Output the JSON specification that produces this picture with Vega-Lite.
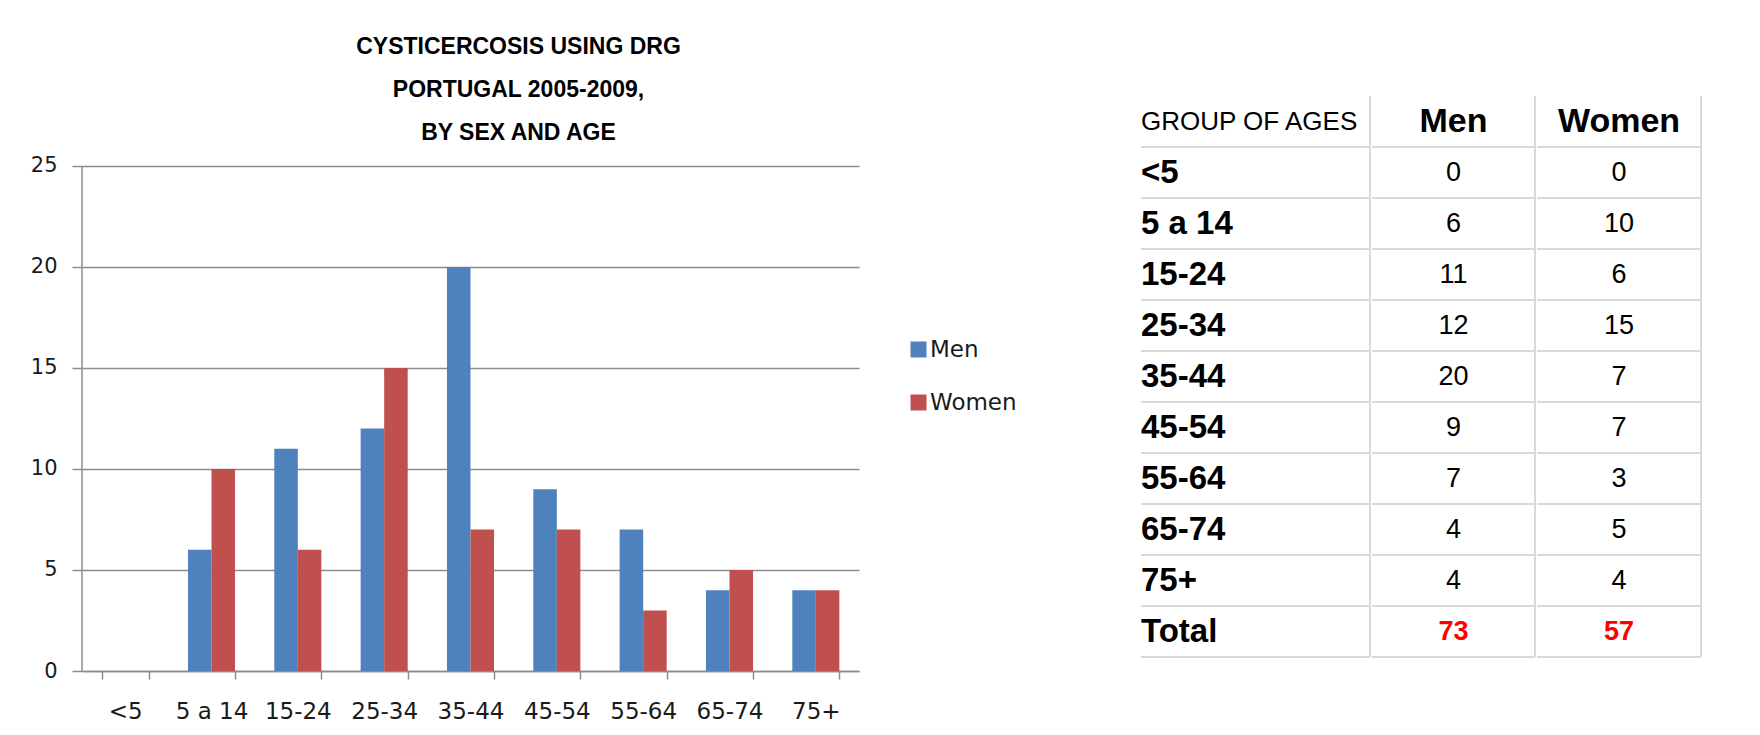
{
  "$schema": "https://vega.github.io/schema/vega-lite/v6.json",
  "background": "white",
  "padding": {"left": 30, "top": 36, "right": 0, "bottom": 0},
  "datasets": {
    "rows": [
      {"group": "<5", "Men": 0, "Women": 0},
      {"group": "5 a 14", "Men": 6, "Women": 10},
      {"group": "15-24", "Men": 11, "Women": 6},
      {"group": "25-34", "Men": 12, "Women": 15},
      {"group": "35-44", "Men": 20, "Women": 7},
      {"group": "45-54", "Men": 9, "Women": 7},
      {"group": "55-64", "Men": 7, "Women": 3},
      {"group": "65-74", "Men": 4, "Women": 5},
      {"group": "75+", "Men": 4, "Women": 4},
      {"group": "Total", "Men": 73, "Women": 57}
    ]
  },
  "columns": 2,
  "align": "none",
  "spacing": 281,
  "concat": [
    {
      "width": 777,
      "height": 575,
      "title": {
        "text": ["CYSTICERCOSIS  USING DRG", "PORTUGAL 2005-2009,", "BY SEX AND AGE"],
        "font": "Liberation Sans",
        "fontSize": 23,
        "fontWeight": "bold",
        "lineHeight": 43,
        "color": "#000000",
        "offset": -49,
        "anchor": "middle",
        "frame": "group",
        "dx": 48
      },
      "layer": [
        {
          "data": {"name": "rows"},
          "transform": [
            {"filter": "datum.group !== 'Total'"},
            {"fold": ["Men", "Women"], "as": ["sex", "count"]}
          ],
          "mark": {"type": "bar"},
          "encoding": {
            "x": {
              "field": "group",
              "type": "nominal",
              "sort": null,
              "scale": {"paddingInner": 0.455, "paddingOuter": 0.2275},
              "axis": {
                "title": null,
                "labelAngle": 0,
                "labelFont": "DejaVu Sans",
                "labelFontSize": 23,
                "labelColor": "#1a1a1a",
                "labelPadding": 21,
                "tickBand": "extent",
                "tickSize": 8,
                "tickColor": "#8c8c8c",
                "tickWidth": 1.5,
                "domainColor": "#8c8c8c",
                "domainWidth": 1.5,
                "grid": false
              }
            },
            "xOffset": {"field": "sex", "type": "nominal", "scale": {"paddingInner": 0, "paddingOuter": 0}},
            "y": {
              "field": "count",
              "type": "quantitative",
              "scale": {"domain": [0, 28.465], "nice": false},
              "axis": {
                "title": null,
                "values": [0, 5, 10, 15, 20, 25],
                "labelFont": "DejaVu Sans",
                "labelFontSize": 21,
                "labelColor": "#1a1a1a",
                "labelPadding": 15,
                "tickSize": 10,
                "tickColor": "#8c8c8c",
                "tickWidth": 1.5,
                "domain": false,
                "grid": true,
                "gridColor": "#8c8c8c",
                "gridWidth": 1.5
              }
            },
            "color": {
              "field": "sex",
              "type": "nominal",
              "scale": {"domain": ["Men", "Women"], "range": ["#4F81BD", "#C0504D"]},
              "legend": {
                "title": null,
                "orient": "none",
                "legendX": 825,
                "legendY": 242,
                "symbolType": "square",
                "symbolSize": 256,
                "symbolStrokeWidth": 0,
                "labelFont": "DejaVu Sans",
                "labelFontSize": 23,
                "labelColor": "#1a1a1a",
                "labelOffset": 0,
                "rowPadding": 29,
                "padding": 0
              }
            }
          }
        },
        {
          "data": {"values": [{}]},
          "mark": {"type": "rule", "color": "#8c8c8c", "strokeWidth": 1.5},
          "encoding": {
            "x": {"value": 0},
            "y": {"datum": 0, "type": "quantitative"},
            "y2": {"datum": 25}
          }
        }
      ]
    },
    {
      "spacing": 0,
      "hconcat": [
        {
          "width": 229,
          "height": 561,
          "data": {"name": "rows"},
          "layer": [
            {
              "data": {"values": [{"h": "GROUP OF AGES"}]},
              "mark": {"type": "rule", "color": "#d9d9d9", "strokeWidth": 2},
              "encoding": {
                "y": {
                  "field": "h", "type": "nominal", "bandPosition": 1, "axis": null,
                  "scale": {"domain": ["GROUP OF AGES", "<5", "5 a 14", "15-24", "25-34", "35-44", "45-54", "55-64", "65-74", "75+", "Total"], "paddingInner": 0, "paddingOuter": 0}
                }
              }
            },
            {
              "mark": {"type": "rule", "color": "#d9d9d9", "strokeWidth": 2},
              "encoding": {"y": {"field": "group", "type": "nominal", "bandPosition": 1, "axis": null}}
            },
            {
              "data": {"values": [{}]},
              "mark": {"type": "rule", "color": "#d9d9d9", "strokeWidth": 2},
              "encoding": {"x": {"datum": 1, "type": "quantitative", "scale": {"domain": [0, 1]}, "axis": null}}
            },
            {
              "data": {"values": [{"h": "GROUP OF AGES"}]},
              "mark": {"type": "text", "align": "left", "baseline": "middle", "font": "Liberation Sans", "fontSize": 26, "color": "#000000"},
              "encoding": {
                "x": {"datum": 0, "type": "quantitative", "axis": null},
                "y": {"field": "h", "type": "nominal", "axis": null},
                "text": {"field": "h"}
              }
            },
            {
              "mark": {"type": "text", "align": "left", "baseline": "middle", "font": "Liberation Sans", "fontSize": 33, "fontWeight": "bold", "color": "#000000"},
              "encoding": {
                "x": {"datum": 0, "type": "quantitative", "axis": null},
                "y": {"field": "group", "type": "nominal", "axis": null},
                "text": {"field": "group"}
              }
            }
          ]
        },
        {
          "width": 163,
          "height": 561,
          "data": {"name": "rows"},
          "layer": [
            {
              "data": {"values": [{"h": "GROUP OF AGES"}]},
              "mark": {"type": "rule", "color": "#d9d9d9", "strokeWidth": 2},
              "encoding": {
                "y": {
                  "field": "h", "type": "nominal", "bandPosition": 1, "axis": null,
                  "scale": {"domain": ["GROUP OF AGES", "<5", "5 a 14", "15-24", "25-34", "35-44", "45-54", "55-64", "65-74", "75+", "Total"], "paddingInner": 0, "paddingOuter": 0}
                }
              }
            },
            {
              "mark": {"type": "rule", "color": "#d9d9d9", "strokeWidth": 2},
              "encoding": {"y": {"field": "group", "type": "nominal", "bandPosition": 1, "axis": null}}
            },
            {
              "data": {"values": [{}]},
              "mark": {"type": "rule", "color": "#d9d9d9", "strokeWidth": 2},
              "encoding": {"x": {"datum": 1, "type": "quantitative", "scale": {"domain": [0, 1]}, "axis": null}}
            },
            {
              "data": {"values": [{"h": "GROUP OF AGES"}]},
              "mark": {"type": "text", "align": "center", "baseline": "middle", "font": "Liberation Sans", "fontSize": 34, "fontWeight": "bold", "color": "#000000"},
              "encoding": {
                "x": {"datum": 0.5, "type": "quantitative", "axis": null},
                "y": {"field": "h", "type": "nominal", "axis": null},
                "text": {"value": "Men"}
              }
            },
            {
              "transform": [{"filter": "datum.group !== 'Total'"}],
              "mark": {"type": "text", "align": "center", "baseline": "middle", "font": "Liberation Sans", "fontSize": 27, "color": "#000000"},
              "encoding": {
                "x": {"datum": 0.5, "type": "quantitative", "axis": null},
                "y": {"field": "group", "type": "nominal", "axis": null},
                "text": {"field": "Men", "type": "quantitative"}
              }
            },
            {
              "transform": [{"filter": "datum.group === 'Total'"}],
              "mark": {"type": "text", "align": "center", "baseline": "middle", "font": "Liberation Sans", "fontSize": 27, "fontWeight": "bold", "color": "#FF0000"},
              "encoding": {
                "x": {"datum": 0.5, "type": "quantitative", "axis": null},
                "y": {"field": "group", "type": "nominal", "axis": null},
                "text": {"field": "Men", "type": "quantitative"}
              }
            }
          ]
        },
        {
          "width": 164,
          "height": 561,
          "data": {"name": "rows"},
          "layer": [
            {
              "data": {"values": [{"h": "GROUP OF AGES"}]},
              "mark": {"type": "rule", "color": "#d9d9d9", "strokeWidth": 2},
              "encoding": {
                "y": {
                  "field": "h", "type": "nominal", "bandPosition": 1, "axis": null,
                  "scale": {"domain": ["GROUP OF AGES", "<5", "5 a 14", "15-24", "25-34", "35-44", "45-54", "55-64", "65-74", "75+", "Total"], "paddingInner": 0, "paddingOuter": 0}
                }
              }
            },
            {
              "mark": {"type": "rule", "color": "#d9d9d9", "strokeWidth": 2},
              "encoding": {"y": {"field": "group", "type": "nominal", "bandPosition": 1, "axis": null}}
            },
            {
              "data": {"values": [{}]},
              "mark": {"type": "rule", "color": "#d9d9d9", "strokeWidth": 2},
              "encoding": {"x": {"datum": 1, "type": "quantitative", "scale": {"domain": [0, 1]}, "axis": null}}
            },
            {
              "data": {"values": [{"h": "GROUP OF AGES"}]},
              "mark": {"type": "text", "align": "center", "baseline": "middle", "font": "Liberation Sans", "fontSize": 34, "fontWeight": "bold", "color": "#000000"},
              "encoding": {
                "x": {"datum": 0.5, "type": "quantitative", "axis": null},
                "y": {"field": "h", "type": "nominal", "axis": null},
                "text": {"value": "Women"}
              }
            },
            {
              "transform": [{"filter": "datum.group !== 'Total'"}],
              "mark": {"type": "text", "align": "center", "baseline": "middle", "font": "Liberation Sans", "fontSize": 27, "color": "#000000"},
              "encoding": {
                "x": {"datum": 0.5, "type": "quantitative", "axis": null},
                "y": {"field": "group", "type": "nominal", "axis": null},
                "text": {"field": "Women", "type": "quantitative"}
              }
            },
            {
              "transform": [{"filter": "datum.group === 'Total'"}],
              "mark": {"type": "text", "align": "center", "baseline": "middle", "font": "Liberation Sans", "fontSize": 27, "fontWeight": "bold", "color": "#FF0000"},
              "encoding": {
                "x": {"datum": 0.5, "type": "quantitative", "axis": null},
                "y": {"field": "group", "type": "nominal", "axis": null},
                "text": {"field": "Women", "type": "quantitative"}
              }
            }
          ]
        }
      ]
    }
  ],
  "config": {
    "view": {"stroke": null}
  }
}
